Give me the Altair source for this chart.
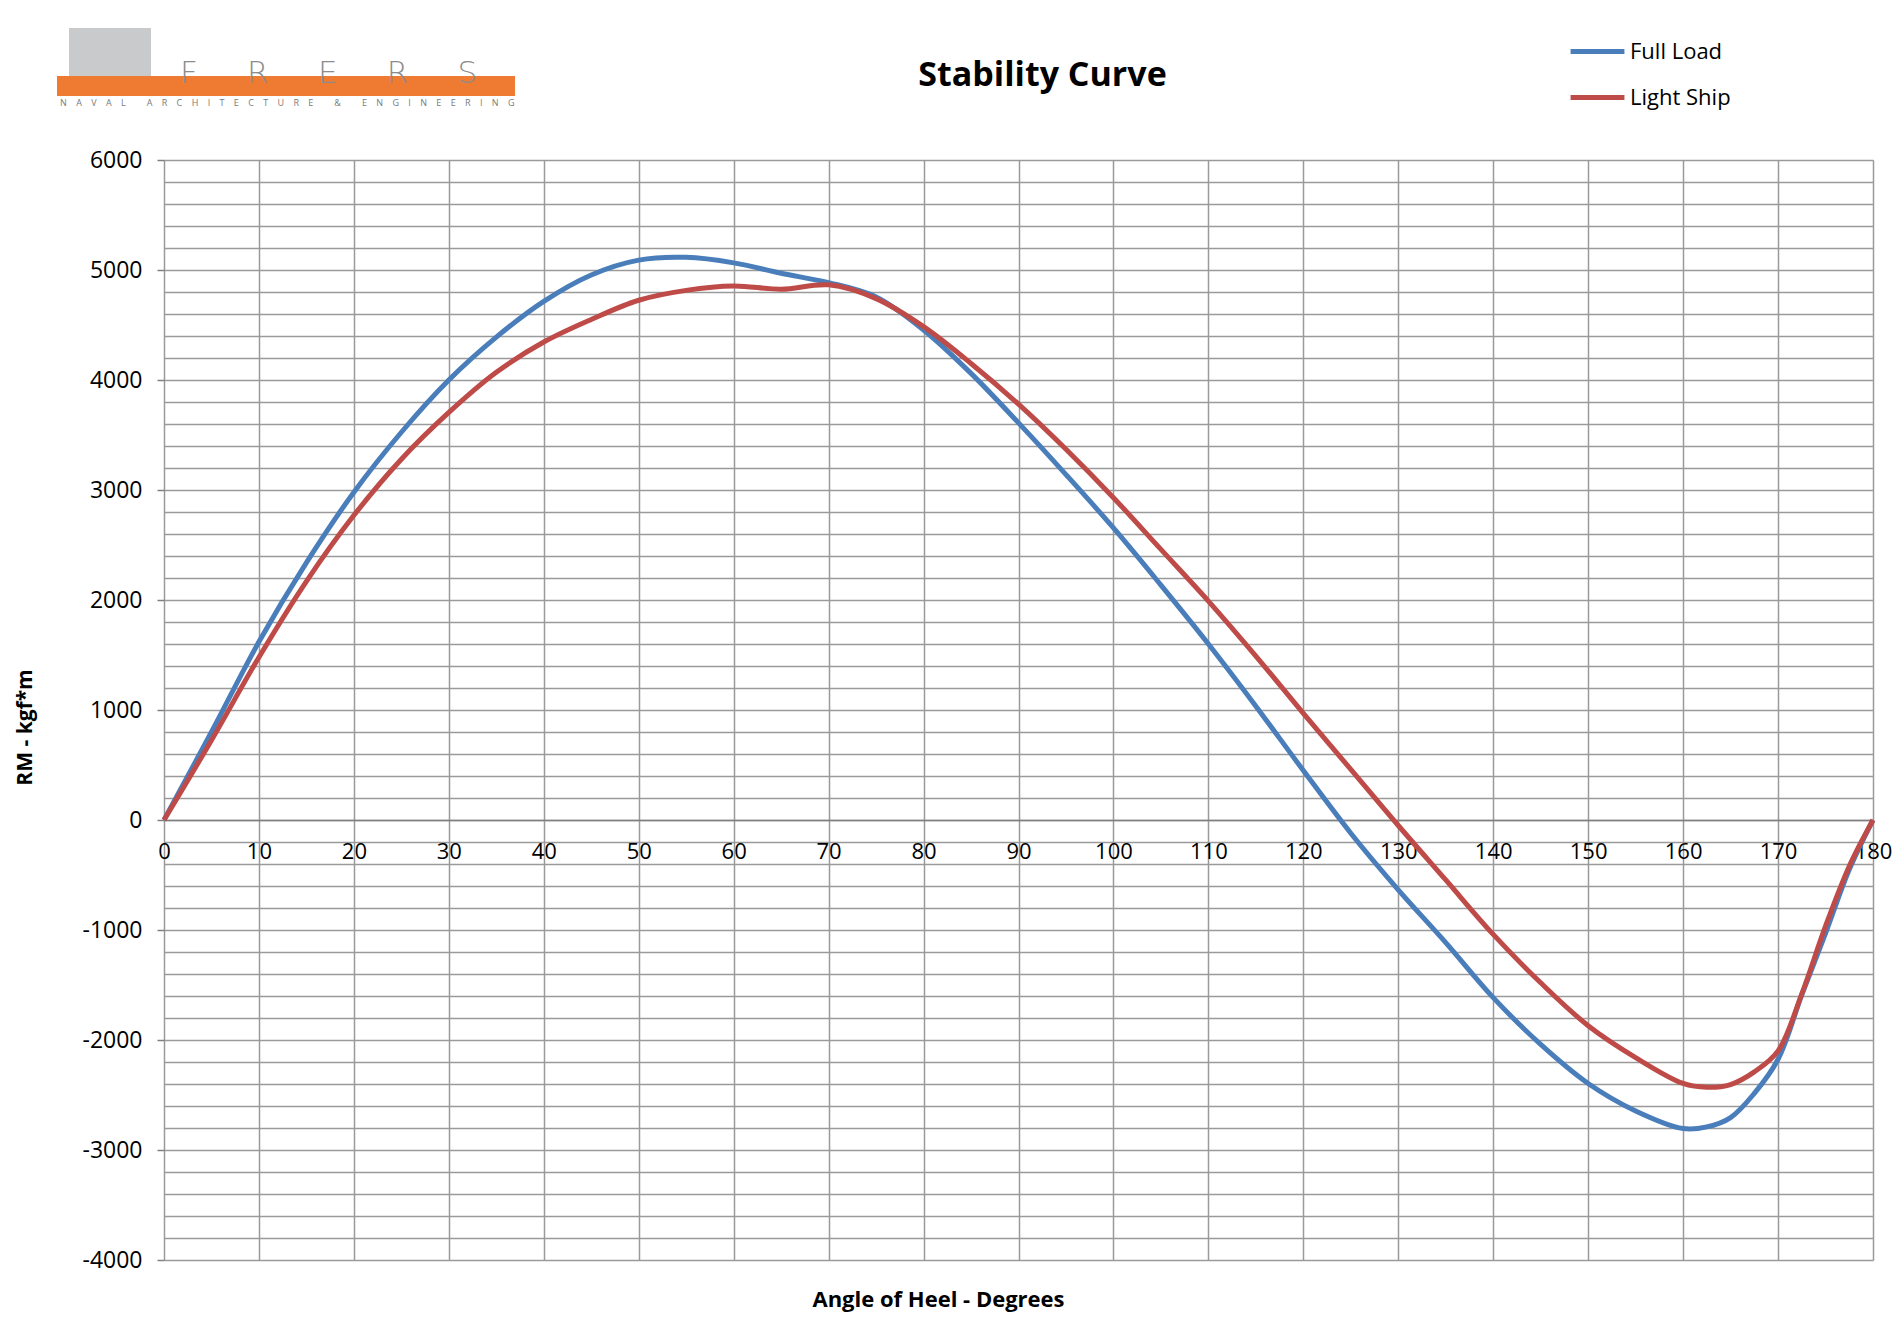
import altair as alt
import pandas as pd

# heel angles (degrees) and righting moment (kgf*m)
angles = [0, 5, 10, 15, 20, 25, 30, 35, 40, 45, 50, 55, 60, 65, 70, 75, 80, 85, 90,
          95, 100, 105, 110, 115, 120, 125, 130, 135, 140, 145, 150, 155, 160,
          162.5, 165, 167.5, 170, 172.5, 175, 177.5, 180]
full_load = [0, 800, 1620, 2340, 2980, 3525, 4000, 4390, 4715, 4955, 5090, 5115, 5065,
             4970, 4885, 4755, 4455, 4060, 3610, 3140, 2655, 2135, 1600, 1035, 450,
             -120, -635, -1115, -1615, -2040, -2395, -2645, -2805,
             -2790, -2705, -2485, -2175, -1590, -1030, -450, 0]
light_ship = [0, 725, 1480, 2170, 2770, 3280, 3705, 4070, 4345, 4550, 4725, 4815, 4855,
              4825, 4865, 4740, 4485, 4150, 3780, 3370, 2930, 2460, 1990, 1490, 970,
              460, -50, -545, -1040, -1480, -1870, -2160, -2395,
              -2430, -2405, -2290, -2100, -1580, -965, -420, 0]

series_names = ["Full Load", "Light Ship"]
series_colors = ["#4A7EBB", "#BE4B48"]
x_ticks = list(range(0, 181, 10))
y_grid = list(range(-4000, 6001, 200))

W, H = 1709, 1100
FONT = "Open Sans"
GRID = "#9A9A9A"

n = len(angles)
df = pd.DataFrame({
    "angle": angles * 2,
    "rm": full_load + light_ship,
    "series": [series_names[0]] * n + [series_names[1]] * n,
})

lines = alt.Chart(df).mark_line(strokeWidth=5, interpolate="catmull-rom").encode(
    x=alt.X("angle:Q", scale=alt.Scale(domain=[0, 180], nice=False),
            axis=alt.Axis(values=x_ticks, offset=-H * 0.4, ticks=False,
                          labelFont=FONT, labelFontSize=22, labelColor="black",
                          labelPadding=21, labelBaseline="top", labelFlush=False,
                          domainColor="#808080", domainWidth=1.5,
                          gridColor=GRID, gridWidth=1.5,
                          title="Angle of Heel - Degrees", titleFont=FONT,
                          titleFontSize=22, titleFontWeight="bold", titleColor="black",
                          titleX=774, titleY=479, titleBaseline="middle")),
    y=alt.Y("rm:Q", scale=alt.Scale(domain=[-4000, 6000], nice=False),
            axis=alt.Axis(values=y_grid,
                          labelExpr="datum.value % 1000 === 0 ? '' + datum.value : ''",
                          labelOverlap=False, labelFont=FONT, labelFontSize=23,
                          labelColor="black", labelPadding=15,
                          tickSize=7, tickColor="#808080", tickWidth=1.5,
                          tickOpacity={"condition": {"test": "datum.value % 1000 === 0", "value": 1},
                                       "value": 0},
                          domain=False, gridColor=GRID, gridWidth=1.5,
                          title="RM  - kgf*m", titleFont=FONT, titleFontSize=21,
                          titleFontWeight="bold", titleColor="black",
                          titleX=-139, titleY=567, titleBaseline="middle")),
    color=alt.Color("series:N",
                    scale=alt.Scale(domain=series_names, range=series_colors),
                    legend=alt.Legend(orient="none", legendX=1404, legendY=-138,
                                      title=None, labelFont=FONT, labelFontSize=22,
                                      labelColor="black", symbolType="stroke",
                                      symbolStrokeWidth=5, symbolSize=2900,
                                      rowPadding=5, labelOffset=3)),
)

# FRERS logo, top left corner
one = pd.DataFrame({"k": [0]})
logo_square = alt.Chart(one).mark_rect(color="#C9CACB").encode(
    x=alt.value(-95), x2=alt.value(-13), y=alt.value(-132), y2=alt.value(-78))
logo_bar = alt.Chart(one).mark_rect(color="#EF7B32").encode(
    x=alt.value(-107), x2=alt.value(351), y=alt.value(-84), y2=alt.value(-64))
nb = "\u00a0"
logo_name = alt.Chart(one).mark_text(
    text=(nb * 5).join("FRERS"), font="DejaVu Sans", fontWeight=200, fontSize=31,
    color="#8C8C8C", align="left", baseline="middle").encode(
    x=alt.value(16), y=alt.value(-86))
logo_sub = alt.Chart(one).mark_text(
    text=(nb * 4).join("NAVAL ARCHITECTURE & ENGINEERING".replace(" ", nb)),
    font=FONT, fontSize=9, color="#7A7A7A", align="left", baseline="middle").encode(
    x=alt.value(-104), y=alt.value(-57))

chart = alt.layer(lines, logo_square, logo_bar, logo_name, logo_sub).properties(
    width=W, height=H,
    autosize=alt.AutoSizeParams(type="none"),
    padding={"left": 156, "top": 152, "right": 19, "bottom": 62},
    title=alt.TitleParams("Stability Curve", font=FONT, fontSize=34, fontWeight="bold",
                          color="black", anchor="middle", dx=24, offset=-71),
).configure_view(stroke=None).configure(background="white")

chart.save("out.html", embed_options={"renderer": "svg", "actions": False})
